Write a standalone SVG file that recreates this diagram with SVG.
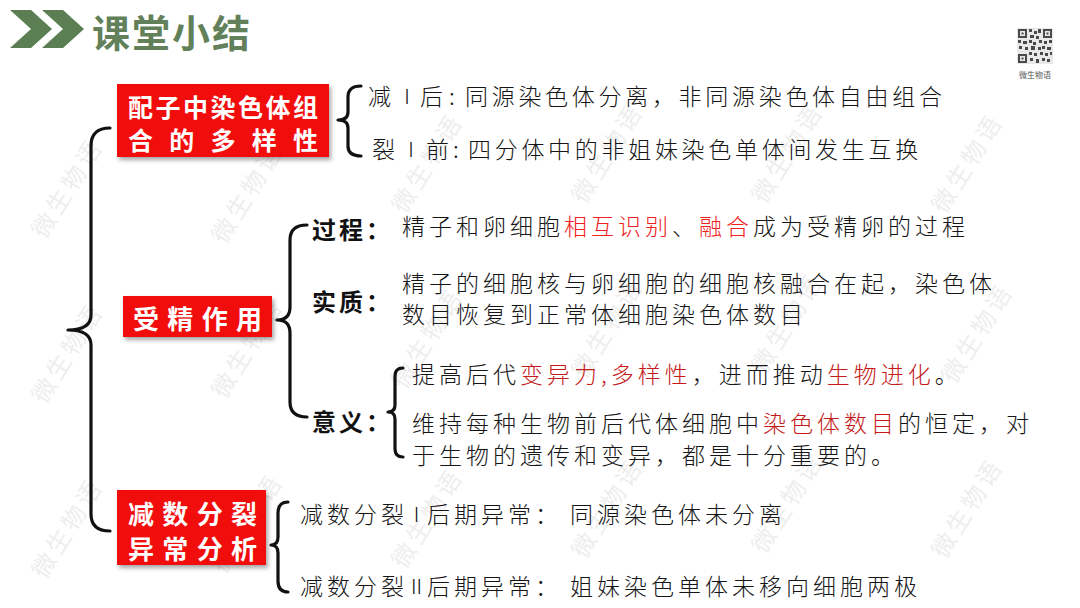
<svg xmlns="http://www.w3.org/2000/svg" width="1080" height="608" viewBox="0 0 1080 608">
<defs>
<style>
.t{font-family:"Noto Sans CJK SC","Noto Sans",sans-serif;font-size:23px;fill:#151515;letter-spacing:4px;dominant-baseline:central;font-weight:300}
.t1{letter-spacing:3.7px}
.t0{letter-spacing:0}
.lab{font-family:"Noto Sans CJK SC","Noto Sans",sans-serif;font-size:24px;font-weight:bold;fill:#111;letter-spacing:3px;dominant-baseline:central}
.bx{font-family:"Noto Sans CJK SC","Noto Sans",sans-serif;font-size:26px;font-weight:bold;fill:#fff;dominant-baseline:central}
.bx2{font-size:25px}
.num{font-family:"Noto Sans CJK SC","Noto Sans",sans-serif;font-size:20px;fill:#151515;text-anchor:middle;dominant-baseline:central;font-weight:300}
.r1{fill:#ee2020}
.r2{fill:#c41a1a}
.br{fill:none;stroke:#111;stroke-width:3.2;stroke-linecap:round;stroke-linejoin:round}
.box{fill:#f20d0d}
.wm{font-family:"Noto Sans CJK SC",sans-serif;font-size:24px;fill:#eeeeee;letter-spacing:4px}
.qr{fill:#4a4a4a}
</style>
<filter id="sh" x="-10%" y="-10%" width="130%" height="140%">
<feDropShadow dx="2" dy="3" stdDeviation="2" flood-color="#000" flood-opacity="0.35"/>
</filter>
</defs>
<rect width="1080" height="608" fill="#fff"/>

<g id="watermark">
<text class="wm" transform="translate(45,240) rotate(-58)">微生物语</text>
<text class="wm" transform="translate(225,245) rotate(-58)">微生物语</text>
<text class="wm" transform="translate(405,215) rotate(-58)">微生物语</text>
<text class="wm" transform="translate(585,205) rotate(-58)">微生物语</text>
<text class="wm" transform="translate(765,205) rotate(-58)">微生物语</text>
<text class="wm" transform="translate(945,215) rotate(-58)">微生物语</text>
<text class="wm" transform="translate(45,405) rotate(-58)">微生物语</text>
<text class="wm" transform="translate(225,400) rotate(-58)">微生物语</text>
<text class="wm" transform="translate(405,390) rotate(-58)">微生物语</text>
<text class="wm" transform="translate(585,380) rotate(-58)">微生物语</text>
<text class="wm" transform="translate(765,375) rotate(-58)">微生物语</text>
<text class="wm" transform="translate(955,385) rotate(-58)">微生物语</text>
<text class="wm" transform="translate(45,580) rotate(-58)">微生物语</text>
<text class="wm" transform="translate(225,575) rotate(-58)">微生物语</text>
<text class="wm" transform="translate(405,570) rotate(-58)">微生物语</text>
<text class="wm" transform="translate(585,560) rotate(-58)">微生物语</text>
<text class="wm" transform="translate(765,555) rotate(-58)">微生物语</text>
<text class="wm" transform="translate(945,560) rotate(-58)">微生物语</text>
</g>

<g id="title">
<polygon points="10,10 31,10 52,29 31,48 10,48 31,29" fill="#5b7f52"/>
<polygon points="42,10 63,10 84,29 63,48 42,48 63,29" fill="#5b7f52"/>
<text x="92" y="30" style="font-family:'Noto Sans CJK SC',sans-serif;font-size:38px;font-weight:bold;fill:#62805a;letter-spacing:2px;dominant-baseline:central">课堂小结</text>
</g>

<g id="qrcode">
<rect x="1017" y="28" width="36" height="36" fill="#e8e8e8"/>
<rect x="1018" y="29" width="9" height="9" class="qr"/><rect x="1020" y="31" width="5" height="5" fill="#e8e8e8"/><rect x="1021.5" y="32.5" width="2" height="2" class="qr"/>
<rect x="1043" y="29" width="9" height="9" class="qr"/><rect x="1045" y="31" width="5" height="5" fill="#e8e8e8"/><rect x="1046.5" y="32.5" width="2" height="2" class="qr"/>
<rect x="1018" y="54" width="9" height="9" class="qr"/><rect x="1020" y="56" width="5" height="5" fill="#e8e8e8"/><rect x="1021.5" y="57.5" width="2" height="2" class="qr"/>
<path class="qr" d="M1029,29h3v3h-3zM1034,31h3v3h-3zM1038,29h3v4h-3zM1030,35h4v3h-4zM1036,36h3v3h-3zM1018,40h3v3h-3zM1023,41h4v3h-4zM1029,40h3v3h-3zM1033,42h3v3h-3zM1039,40h3v3h-3zM1044,41h3v3h-3zM1049,40h3v3h-3zM1019,46h3v3h-3zM1025,47h3v3h-3zM1031,46h4v4h-4zM1038,47h3v3h-3zM1042,46h3v3h-3zM1047,47h4v3h-4zM1029,52h3v3h-3zM1034,53h3v3h-3zM1040,52h3v3h-3zM1045,53h3v3h-3zM1050,52h2v3h-2zM1030,58h3v3h-3zM1036,59h3v4h-3zM1042,58h3v3h-3zM1047,59h3v3h-3z"/>
<text x="1035" y="74" style="font-family:'Noto Sans CJK SC',sans-serif;font-size:8px;fill:#555;text-anchor:middle;dominant-baseline:central">微生物语</text>
</g>

<g id="connectors">
<path class="br" d="M110,128 Q91,128 91,146 L91,315 Q91,330 68,330 Q91,330 91,345 L91,514 Q91,531 110,531"/>
<path class="br" d="M361,86 Q348,86 348,97 L348,112 Q348,120 338,120 Q348,120 348,128 L348,146 Q348,156 361,156"/>
<path class="br" d="M307,225 Q290,225 290,240 L290,307 Q290,320 277,320 Q290,320 290,333 L290,402 Q290,417 307,417"/>
<path class="br" d="M403,368 Q395,368 395,376 L395,405 Q395,412 388,412 Q395,412 395,419 L395,449 Q395,457 403,457"/>
<path class="br" d="M288,502 Q278,502 278,513 L278,537 Q278,545 271,545 Q278,545 278,553 L278,581 Q278,592 288,592"/>
</g>

<g id="node-gamete">
<rect class="box" x="117" y="84" width="212" height="73" filter="url(#sh)"/>
<text class="bx bx2" x="128 155.5 183 210.5 238 265.5 293" y="106">配子中染色体组</text>
<text class="bx bx2" x="128 169.25 210.5 251.75 293" y="139">合的多样性</text>
</g>
<g id="node-gamete-items">
<text class="t t1" y="95"><tspan x="368">减</tspan><tspan x="420">后</tspan><tspan x="449" style="letter-spacing:0">:</tspan><tspan x="465">同源染色体分离，非同源染色体自由组合</tspan></text>
<text class="num" x="407" y="95">Ⅰ</text>
<text class="t t1" y="148"><tspan x="372">裂</tspan><tspan x="426">前</tspan><tspan x="453" style="letter-spacing:0">:</tspan><tspan x="468">四分体中的非姐妹染色单体间发生互换</tspan></text>
<text class="num" x="411" y="148">Ⅰ</text>
</g>

<g id="node-fertilization">
<rect class="box" x="123" y="296" width="149" height="41" filter="url(#sh)"/>
<text class="bx" x="133 167.3 201.7 236" y="317">受精作用</text>
</g>
<g id="node-process">
<text class="lab" x="312" y="228">过程：</text>
<text class="t" x="402" y="225">精子和卵细胞<tspan class="r1">相互识别</tspan>、<tspan class="r1">融合</tspan>成为受精卵的过程</text>
</g>
<g id="node-essence">
<text class="lab" x="312" y="300">实质：</text>
<text class="t" x="402" y="282">精子的细胞核与卵细胞的细胞核融合在起，染色体</text>
<text class="t" x="402" y="313">数目恢复到正常体细胞染色体数目</text>
</g>
<g id="node-meaning">
<text class="lab" x="312" y="420">意义：</text>
<text class="t" x="412" y="373">提高后代<tspan class="r2">变异力,多样性</tspan>，进而推动<tspan class="r2">生物进化</tspan>。</text>
<text class="t" x="412" y="422">维持每种生物前后代体细胞中<tspan class="r2">染色体数目</tspan>的恒定，对</text>
<text class="t" x="412" y="454">于生物的遗传和变异，都是十分重要的。</text>
</g>

<g id="node-meiosis">
<rect class="box" x="117" y="490" width="149" height="75" filter="url(#sh)"/>
<text class="bx" x="128 162.3 196.7 231" y="512">减数分裂</text>
<text class="bx" x="128 162.3 196.7 231" y="547">异常分析</text>
</g>
<g id="node-meiosis-items">
<text class="t t0" y="513"><tspan x="300 327 354 381">减数分裂</tspan><tspan x="427" style="letter-spacing:4px">后期异常：</tspan><tspan x="570" style="letter-spacing:4px">同源染色体未分离</tspan></text>
<text class="num" x="416.5" y="513">Ⅰ</text>
<text class="t t0" y="585"><tspan x="300 327 354 381">减数分裂</tspan><tspan x="427" style="letter-spacing:4px">后期异常：</tspan><tspan x="570" style="letter-spacing:4px">姐妹染色单体未移向细胞两极</tspan></text>
<text class="num" x="416.5" y="585">Ⅱ</text>
</g>
</svg>
